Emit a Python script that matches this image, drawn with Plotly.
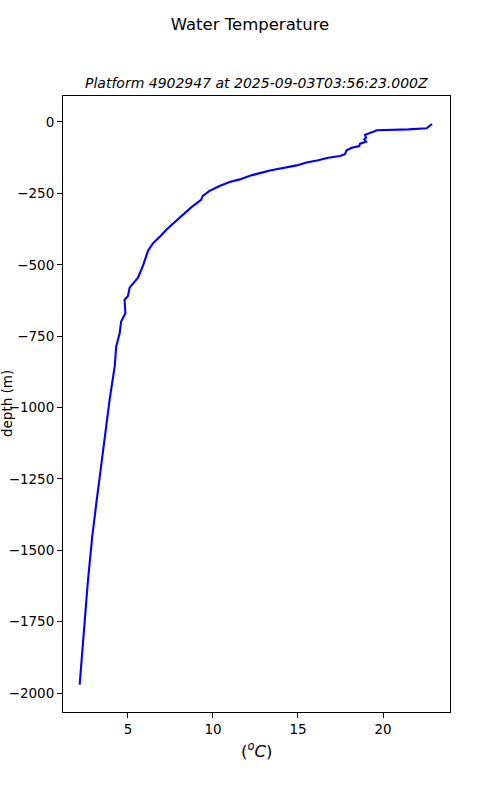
import plotly.graph_objects as go

# Temperature (°C) and depth (m) read from the profile
temperature = [22.88, 22.75, 22.57, 21.5, 20.3, 19.63, 19.47, 18.94, 19.0, 18.9, 19.0, 18.65,
               18.6, 18.16, 17.86, 17.76, 17.47, 16.78, 16.19, 15.5, 14.92, 14.14, 13.35,
               12.7, 12.3, 11.57, 10.98, 10.39, 9.8, 9.4, 9.3, 8.7, 7.76, 7.3, 6.9,
               6.47, 6.18, 5.88, 5.59, 5.1, 5.0, 4.8, 4.85, 4.6, 4.51, 4.31, 4.22, 4.12,
               3.92, 3.72, 3.55, 3.38, 3.14, 2.9, 2.65, 2.45, 2.25, 2.16]
depth = [-7, -14, -22, -26, -28, -29, -33, -45, -55, -61, -69, -76,
         -84, -90, -99, -113, -119, -125, -134, -142, -152, -160, -170,
         -180, -186, -201, -210, -224, -241, -259, -273, -300, -350, -375, -400,
         -425, -451, -504, -545, -580, -609, -623, -670, -699, -740, -786, -856, -891,
         -973, -1066, -1136, -1224, -1335, -1451, -1603, -1743, -1895, -1970]

x_ticks = [5, 10, 15, 20]
y_ticks = [0, -250, -500, -750, -1000, -1250, -1500, -1750, -2000]

title = "Water Temperature"
subtitle = "Platform 4902947 at 2025-09-03T03:56:23.000Z"

font = "DejaVu Sans"

fig = go.Figure()
fig.add_trace(go.Scatter(x=temperature, y=depth, mode="lines",
                         line=dict(color="#0000ff", width=2.1), showlegend=False))

axis_common = dict(showline=True, linecolor="black", linewidth=1, mirror=True,
                   ticks="outside", ticklen=5, tickwidth=1, tickcolor="black",
                   showgrid=False, zeroline=False, automargin=False,
                   tickfont=dict(family=font, size=13.5, color="black"))

fig.update_xaxes(range=[1.18, 23.94], tickvals=x_ticks, **axis_common)
fig.update_yaxes(range=[-2066, 91], tickvals=y_ticks, **axis_common)

fig.update_layout(
    width=500, height=800,
    margin=dict(l=63, r=50, t=96, b=88),
    paper_bgcolor="white", plot_bgcolor="white",
    font=dict(family=font, color="black"),
    title=dict(text=title, x=0.5, xanchor="center", y=1 - 24 / 800, yanchor="middle",
               font=dict(family=font, size=16.5, color="black")),
    annotations=[
        dict(text="<i>" + subtitle + "</i>", xref="paper", yref="paper", x=0.5, y=1,
             xanchor="center", yanchor="middle", yshift=13, showarrow=False,
             font=dict(family=font, size=14, color="black")),
        dict(text="(<i><sup>o</sup>C</i>)", xref="paper", yref="paper", x=0.5, y=0,
             xanchor="center", yanchor="middle", yshift=-38, showarrow=False,
             font=dict(family=font, size=16.5, color="black")),
        dict(text="depth (m)", xref="paper", yref="paper", x=0, y=0.5, textangle=-90,
             xanchor="center", yanchor="middle", xshift=-56, showarrow=False,
             font=dict(family=font, size=13.5, color="black")),
    ],
)

fig.write_html("out.html", config={"displayModeBar": False},
               post_script="document.body.style.margin='0';")
